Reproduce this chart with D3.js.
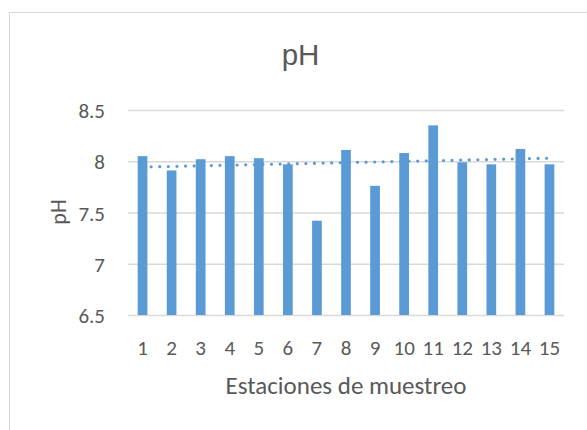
<!DOCTYPE html>
<html>
<head>
<meta charset="utf-8">
<script src="https://cdn.jsdelivr.net/npm/d3@7"></script>
<style>
  html, body { margin: 0; padding: 0; background: #fff; }
  svg { display: block; font-family: Carlito, Lato, "Open Sans", sans-serif; }
</style>
</head>
<body>
<svg id="chart" width="587" height="430"></svg>
<script>
// Sampling stations and measured pH
const stations = ["1","2","3","4","5","6","7","8","9","10","11","12","13","14","15"];
const phValues = [8.05, 7.91, 8.02, 8.05, 8.03, 7.97, 7.42, 8.11, 7.76, 8.08, 8.35, 7.99, 7.97, 8.12, 7.97];
const yTicks = [6.5, 7, 7.5, 8, 8.5];
const yTickLabels = ["6.5", "7", "7.5", "8", "8.5"];

const svg = d3.select("#chart");
const barColor = "#5b9bd5";
const gridColor = "#d9d9d9";
const textColor = "#595959";
const labelFont = "Carlito, Lato, sans-serif";
const tickSize = 21;

// chart frame
svg.append("rect")
  .attr("x", 9.5).attr("y", 12.5)
  .attr("width", 600).attr("height", 440)
  .attr("fill", "#fff").attr("stroke", "#d9d9d9").attr("stroke-width", 1);

const plot = { left: 128, right: 564, top: 110, bottom: 315 };

const x = d3.scaleBand()
  .domain(stations)
  .range([plot.left, plot.right])
  .paddingInner(0.666)
  .paddingOuter(0.333);

const y = d3.scaleLinear()
  .domain([6.5, 8.5])
  .range([plot.bottom, plot.top]);

// horizontal gridlines with value labels
const yAxis = d3.axisLeft(y)
  .tickValues(yTicks)
  .tickFormat((d, i) => yTickLabels[i])
  .tickSize(-(plot.right - plot.left))
  .tickPadding(23);

const gy = svg.append("g")
  .attr("transform", `translate(${plot.left},0)`)
  .call(yAxis);
gy.select(".domain").remove();
gy.selectAll(".tick line").attr("stroke", gridColor).attr("stroke-width", 1.3);
gy.selectAll(".tick text")
  .attr("fill", textColor)
  .attr("font-size", tickSize)
  .attr("font-family", labelFont)
  .attr("dy", "0.36em");

// bars
svg.append("g")
  .selectAll("rect")
  .data(phValues)
  .join("rect")
  .attr("x", (d, i) => x(stations[i]))
  .attr("width", x.bandwidth())
  .attr("y", d => y(d))
  .attr("height", d => y(6.5) - y(d))
  .attr("fill", barColor);

// category axis labels
const xAxis = d3.axisBottom(x).tickSize(0);
const gx = svg.append("g")
  .attr("transform", `translate(0,${plot.bottom})`)
  .call(xAxis);
gx.select(".domain").remove();
gx.selectAll(".tick text")
  .attr("fill", textColor)
  .attr("font-size", tickSize)
  .attr("font-family", labelFont)
  .attr("y", 40)
  .attr("dy", 0);

// linear trendline (least squares over station index)
const n = phValues.length;
const xs = d3.range(1, n + 1);
const mx = d3.mean(xs), my = d3.mean(phValues);
const slope = d3.sum(xs, (xi, i) => (xi - mx) * (phValues[i] - my)) / d3.sum(xs, xi => (xi - mx) ** 2);
const intercept = my - slope * mx;
const trend = [1, n].map(k => [x(stations[k - 1]) + x.bandwidth() / 2, y(intercept + slope * k)]);

svg.append("path")
  .attr("d", d3.line()(trend))
  .attr("fill", "none")
  .attr("stroke", barColor)
  .attr("stroke-width", 3.2)
  .attr("stroke-linecap", "round")
  .attr("stroke-dasharray", "0 8.6");

// titles
svg.append("text")
  .attr("x", 300.5).attr("y", 65)
  .attr("text-anchor", "middle")
  .attr("fill", textColor)
  .attr("font-size", 29.5)
  .attr("font-family", "Liberation Sans, Arial, sans-serif")
  .text("pH");

svg.append("text")
  .attr("x", 346).attr("y", 394)
  .attr("text-anchor", "middle")
  .attr("fill", textColor)
  .attr("font-size", 25)
  .text("Estaciones de muestreo");

svg.append("text")
  .attr("transform", `translate(66,212) rotate(-90)`)
  .attr("text-anchor", "middle")
  .attr("fill", textColor)
  .attr("font-size", 22)
  .text("pH");
</script>
</body>
</html>
